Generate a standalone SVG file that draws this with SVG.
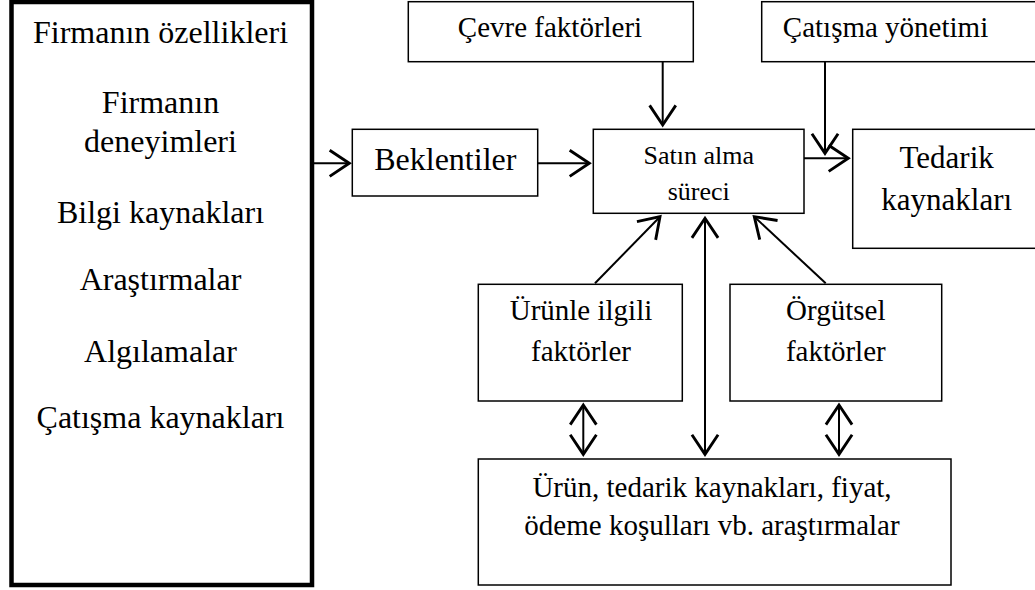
<svg xmlns="http://www.w3.org/2000/svg" width="1035" height="590" viewBox="0 0 1035 590">
<style>
.box{fill:#fff;stroke:#000;stroke-width:1.5}
.thick{fill:#fff;stroke:#000;stroke-width:4.5}
.t{fill:#000;text-anchor:middle}
.s32{font-size:32px}
.s29{font-size:29px}
.s31{font-size:31px}
.s26{font-size:26px}
.c{fill:none;stroke:#000;stroke-width:2}
</style>
<defs>
<marker id="ah" markerUnits="userSpaceOnUse" markerWidth="34" markerHeight="34" viewBox="-18 -13 22 26" refX="0" refY="0" orient="auto-start-reverse">
<path d="M-15,-10 L0,0 L-15,10" fill="none" stroke="#000" stroke-width="2.2"/>
</marker>
</defs>
<rect width="1035" height="590" fill="#fff"/>
<g font-family="Liberation Serif, Tinos, DejaVu Serif, serif">
<g id="left">
<rect class="thick" x="11.5" y="2" width="300.5" height="583"/>
<text class="t s32" x="160.5" y="43">Firmanın özellikleri</text>
<text class="t s32" x="160.5" y="112.7">Firmanın</text>
<text class="t s32" x="160.5" y="151.7">deneyimleri</text>
<text class="t s32" x="160.5" y="223.3">Bilgi kaynakları</text>
<text class="t s32" x="160.5" y="290">Araştırmalar</text>
<text class="t s32" x="160.5" y="361.7">Algılamalar</text>
<text class="t s32" x="160.5" y="428.3">Çatışma kaynakları</text>
</g>
<g id="cevre">
<rect class="box" x="408.3" y="1.7" width="285" height="60"/>
<text class="t s29" x="550" y="37">Çevre faktörleri</text>
</g>
<g id="catisma">
<rect class="box" x="761.7" y="1.7" width="290" height="60"/>
<text class="t s29" x="885.5" y="37">Çatışma yönetimi</text>
</g>
<g id="beklentiler">
<rect class="box" x="352.3" y="129.3" width="185.4" height="66.7"/>
<text class="t s32" x="445.3" y="170">Beklentiler</text>
</g>
<g id="satin">
<rect class="box" x="593.3" y="129.3" width="210.7" height="84"/>
<text class="t s26" x="698.7" y="164.3">Satın alma</text>
<text class="t s26" x="698.7" y="200">süreci</text>
</g>
<g id="tedarik">
<rect class="box" x="852.7" y="129.3" width="200" height="119"/>
<text class="t s31" x="946.7" y="168.3">Tedarik</text>
<text class="t s31" x="946.7" y="210">kaynakları</text>
</g>
<g id="urunle">
<rect class="box" x="478.3" y="284.3" width="204" height="116.7"/>
<text class="t s29" x="581" y="320">Ürünle ilgili</text>
<text class="t s29" x="581" y="360.7">faktörler</text>
</g>
<g id="orgutsel">
<rect class="box" x="730" y="284.3" width="211.7" height="116.7"/>
<text class="t s29" x="835.8" y="320">Örgütsel</text>
<text class="t s29" x="835.8" y="360.7">faktörler</text>
</g>
<g id="arastirma">
<rect class="box" x="478.3" y="459" width="472.7" height="126"/>
<text class="t s29" x="712" y="496.7">Ürün, tedarik kaynakları, fiyat,</text>
<text class="t s29" x="712" y="535">ödeme koşulları vb. araştırmalar</text>
</g>
</g>
<g id="connectors">
<line class="c" x1="314" y1="163.3" x2="349.3" y2="163.3" marker-end="url(#ah)"/>
<line class="c" x1="537.7" y1="163.3" x2="589.3" y2="163.3" marker-end="url(#ah)"/>
<line class="c" x1="662.7" y1="61.7" x2="662.7" y2="125" marker-end="url(#ah)"/>
<line class="c" x1="804" y1="158.3" x2="848.3" y2="158.3" marker-end="url(#ah)"/>
<line class="c" x1="825" y1="61.7" x2="825" y2="153.3" marker-end="url(#ah)"/>
<line class="c" x1="595" y1="283.3" x2="660" y2="216.7" marker-end="url(#ah)"/>
<line class="c" x1="825.7" y1="283.3" x2="754.3" y2="216.7" marker-end="url(#ah)"/>
<line class="c" x1="705" y1="218.3" x2="705" y2="454.3" marker-start="url(#ah)" marker-end="url(#ah)"/>
<line class="c" x1="583.3" y1="405" x2="583.3" y2="454.3" marker-start="url(#ah)" marker-end="url(#ah)"/>
<line class="c" x1="839" y1="405" x2="839" y2="454.3" marker-start="url(#ah)" marker-end="url(#ah)"/>
</g>
</svg>
